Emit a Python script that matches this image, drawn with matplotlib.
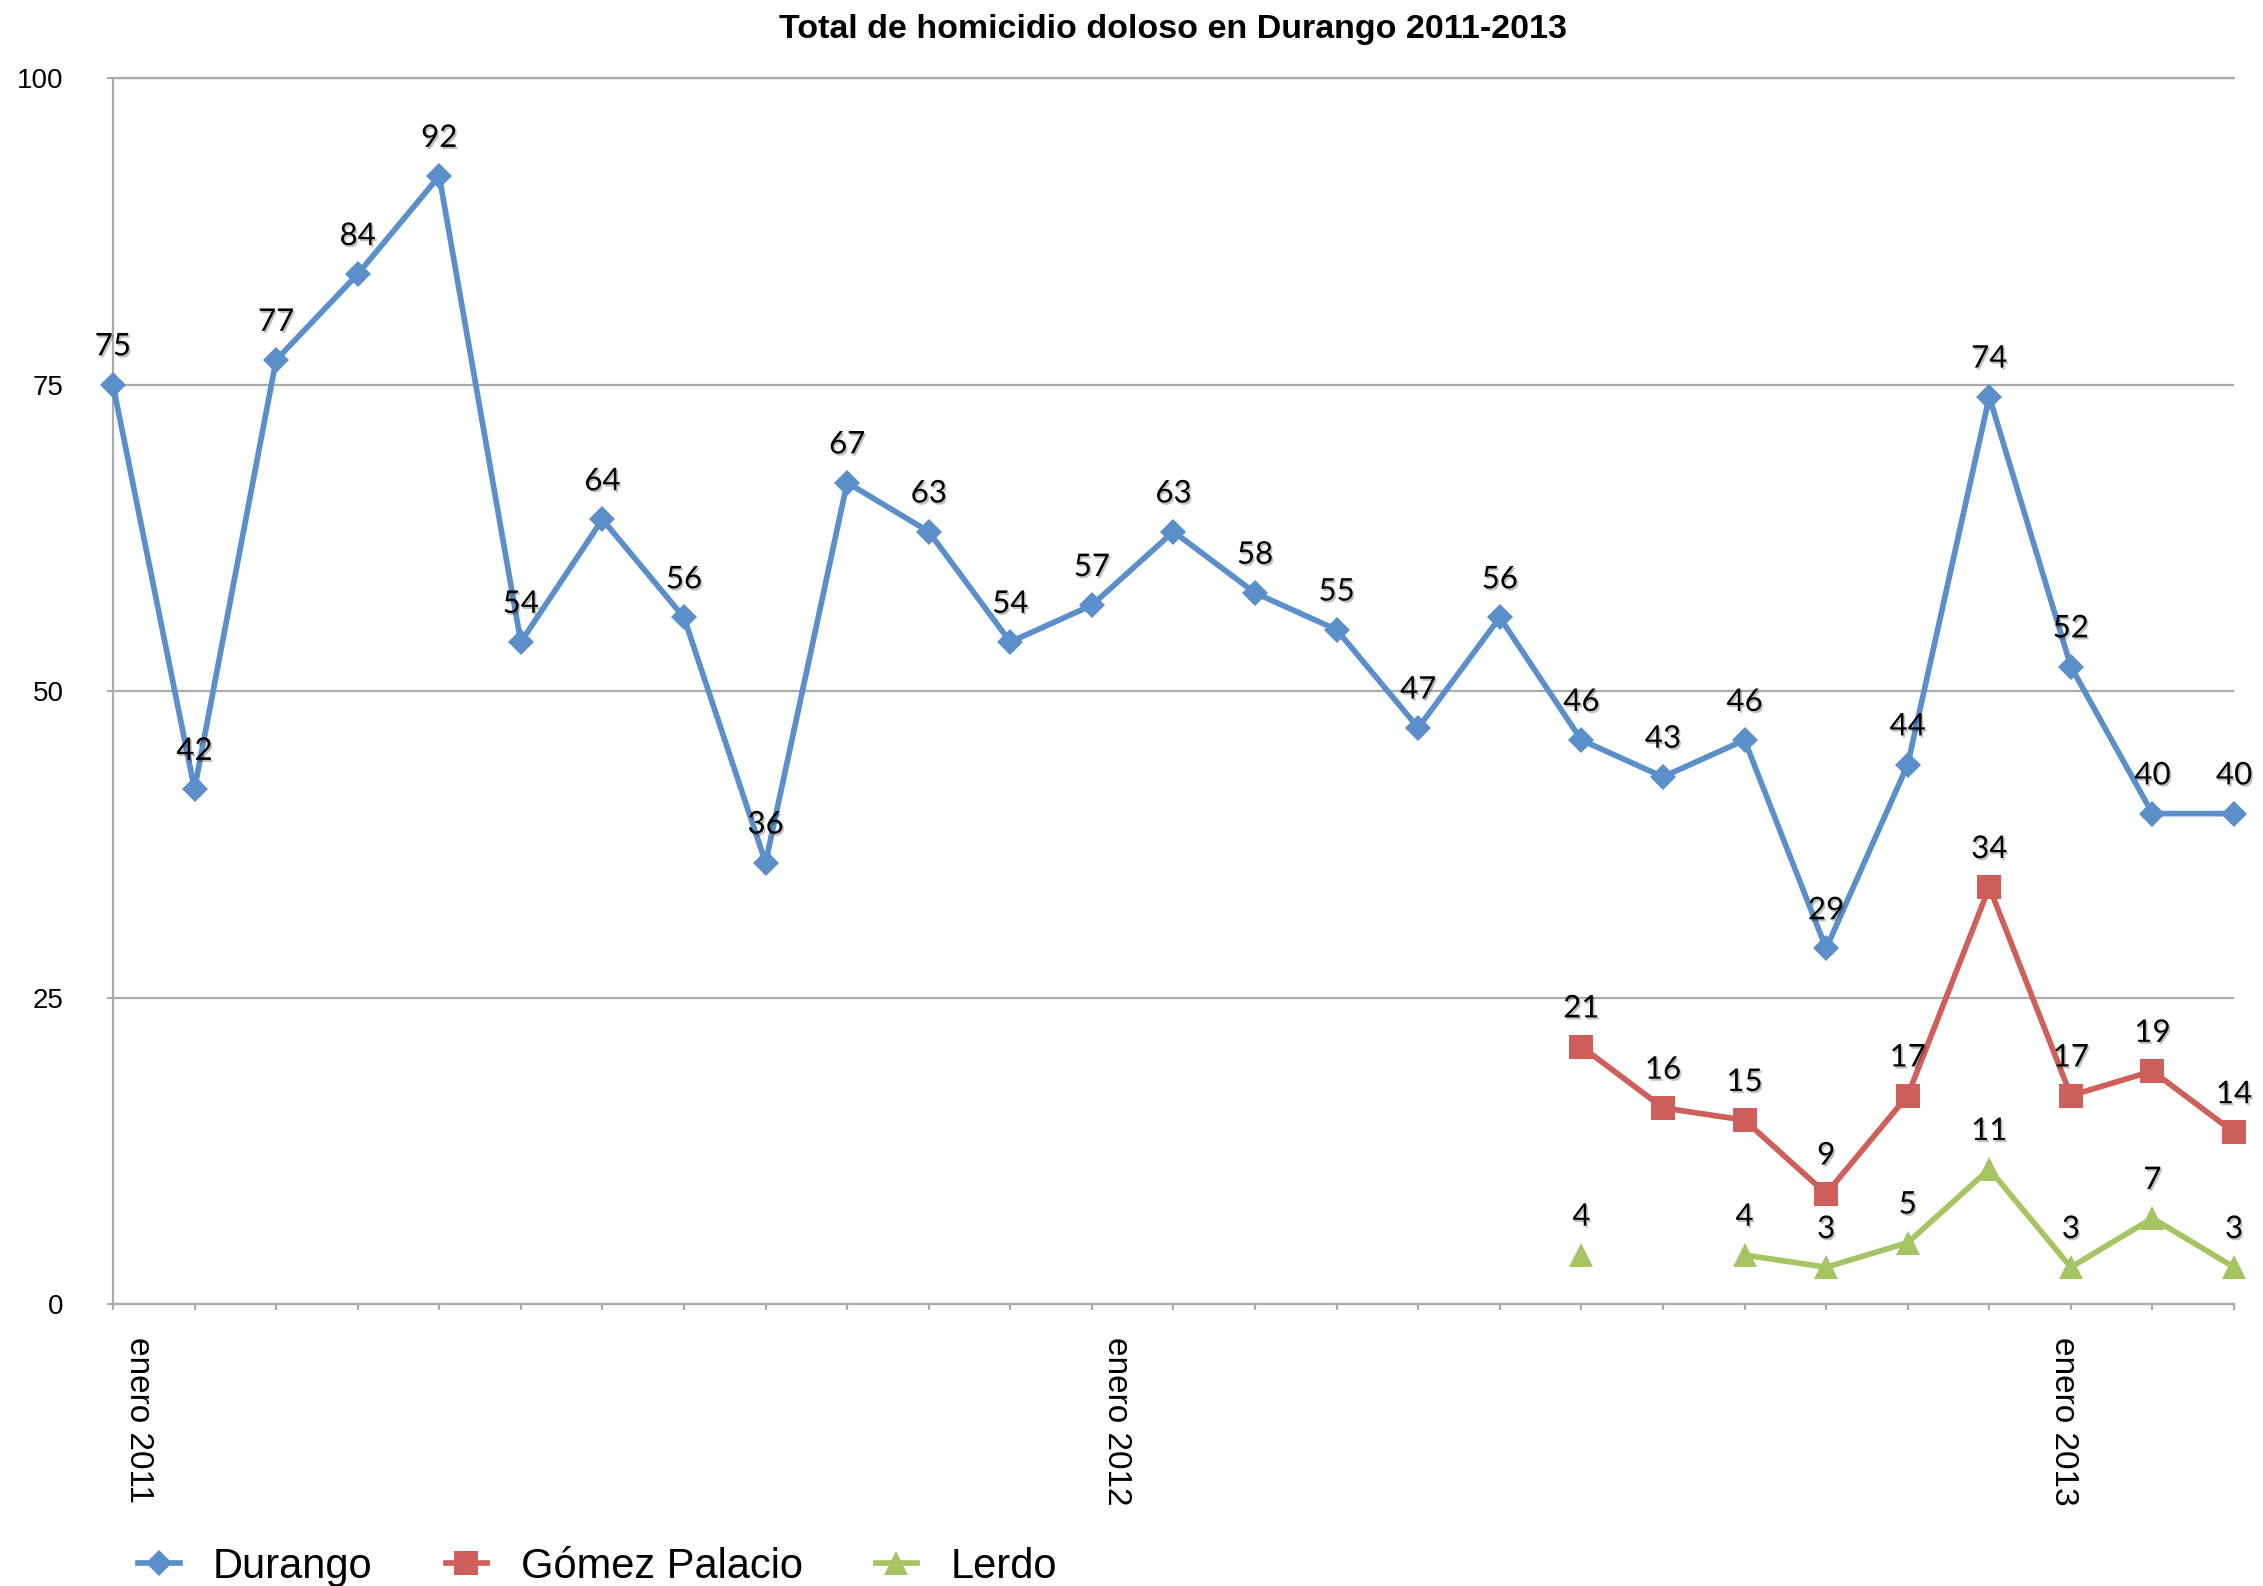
import numpy as np
import matplotlib.pyplot as plt
import matplotlib.patheffects as pe

plt.rcParams['font.family'] = ['Liberation Sans', 'DejaVu Sans']

# monthly totals, enero 2011 .. marzo 2013
meses = ['enero', 'febrero', 'marzo', 'abril', 'mayo', 'junio', 'julio',
         'agosto', 'septiembre', 'octubre', 'noviembre', 'diciembre']
periodos = [f'{meses[k % 12]} {2011 + k // 12}' for k in range(27)]

durango = [75, 42, 77, 84, 92, 54, 64, 56, 36, 67, 63, 54, 57, 63, 58, 55,
           47, 56, 46, 43, 46, 29, 44, 74, 52, 40, 40]
gomez_palacio = [None] * 18 + [21, 16, 15, 9, 17, 34, 17, 19, 14]
lerdo = [None] * 18 + [4, None, 4, 3, 5, 11, 3, 7, 3]

series = [
    ('Durango', durango, '#5A8FC9', 'D', 13.5),
    ('Gómez Palacio', gomez_palacio, '#CE5F5A', 's', 17),
    ('Lerdo', lerdo, '#A5C462', '^', 17),
]

fig = plt.figure(figsize=(22.63, 15.86), dpi=100)
ax = fig.add_axes([0.0499, 0.1778, 0.9373, 0.773])

x = np.arange(len(periodos))
shadow = [pe.withSimplePatchShadow(offset=(1.2, -1.5), shadow_rgbFace='black', alpha=0.25)]

handles = []
for name, vals, color, marker, ms in series:
    y = np.array([np.nan if v is None else v for v in vals], dtype=float)
    ln, = ax.plot(x, y, color=color, lw=4.1, marker=marker, ms=ms,
                  markeredgewidth=0, clip_on=False, zorder=3, label=name)
    handles.append(ln)
    for xi, yi in zip(x, y):
        if np.isnan(yi):
            continue
        ax.annotate(f'{int(yi)}', xy=(xi, yi), xytext=(0, 21), textcoords='offset points',
                    ha='center', va='baseline', fontsize=22.5, family=['Lato', 'DejaVu Sans'],
                    path_effects=shadow, zorder=4)

ax.set_xlim(0, len(periodos) - 1)
ax.set_ylim(0, 100)
ax.set_yticks([0, 25, 50, 75, 100])
ax.yaxis.grid(True, color='#ABABAB', lw=1.6)
ax.set_axisbelow(True)
for side in ['left', 'bottom', 'top']:
    ax.spines[side].set_color('#ABABAB')
    ax.spines[side].set_linewidth(1.6)
ax.spines['right'].set_visible(False)

ax.tick_params(axis='y', length=4.5, width=1.5, color='#ABABAB', pad=31, labelsize=20)
ax.set_xticks(x)
ax.set_xticklabels([])
ax.tick_params(axis='x', length=4.5, width=1.5, color='#ABABAB')

# only the january labels are shown, rotated; the last one sits on its tick
enero_dx = {0: 12.2, 12: 11.5, 24: -11.5}
for xi, lbl in zip(x, periodos):
    if lbl.startswith('enero'):
        ax.annotate(lbl, xy=(xi, 0), xycoords=('data', 'axes fraction'),
                    xytext=(enero_dx[xi], -23.8), textcoords='offset points',
                    rotation=-90, rotation_mode='anchor', ha='left', va='baseline',
                    fontsize=24)

ax.set_title('Total de homicidio doloso en Durango 2011-2013', fontsize=24.5,
             fontweight='bold', pad=29)

fig.legend(handles=handles, loc='center left', bbox_to_anchor=(0.061, 0.012), ncol=3,
           frameon=False, fontsize=30, handlelength=1.0, handletextpad=0.8,
           columnspacing=1.75, borderpad=0, borderaxespad=0)

fig.savefig('out.png', dpi=100)
